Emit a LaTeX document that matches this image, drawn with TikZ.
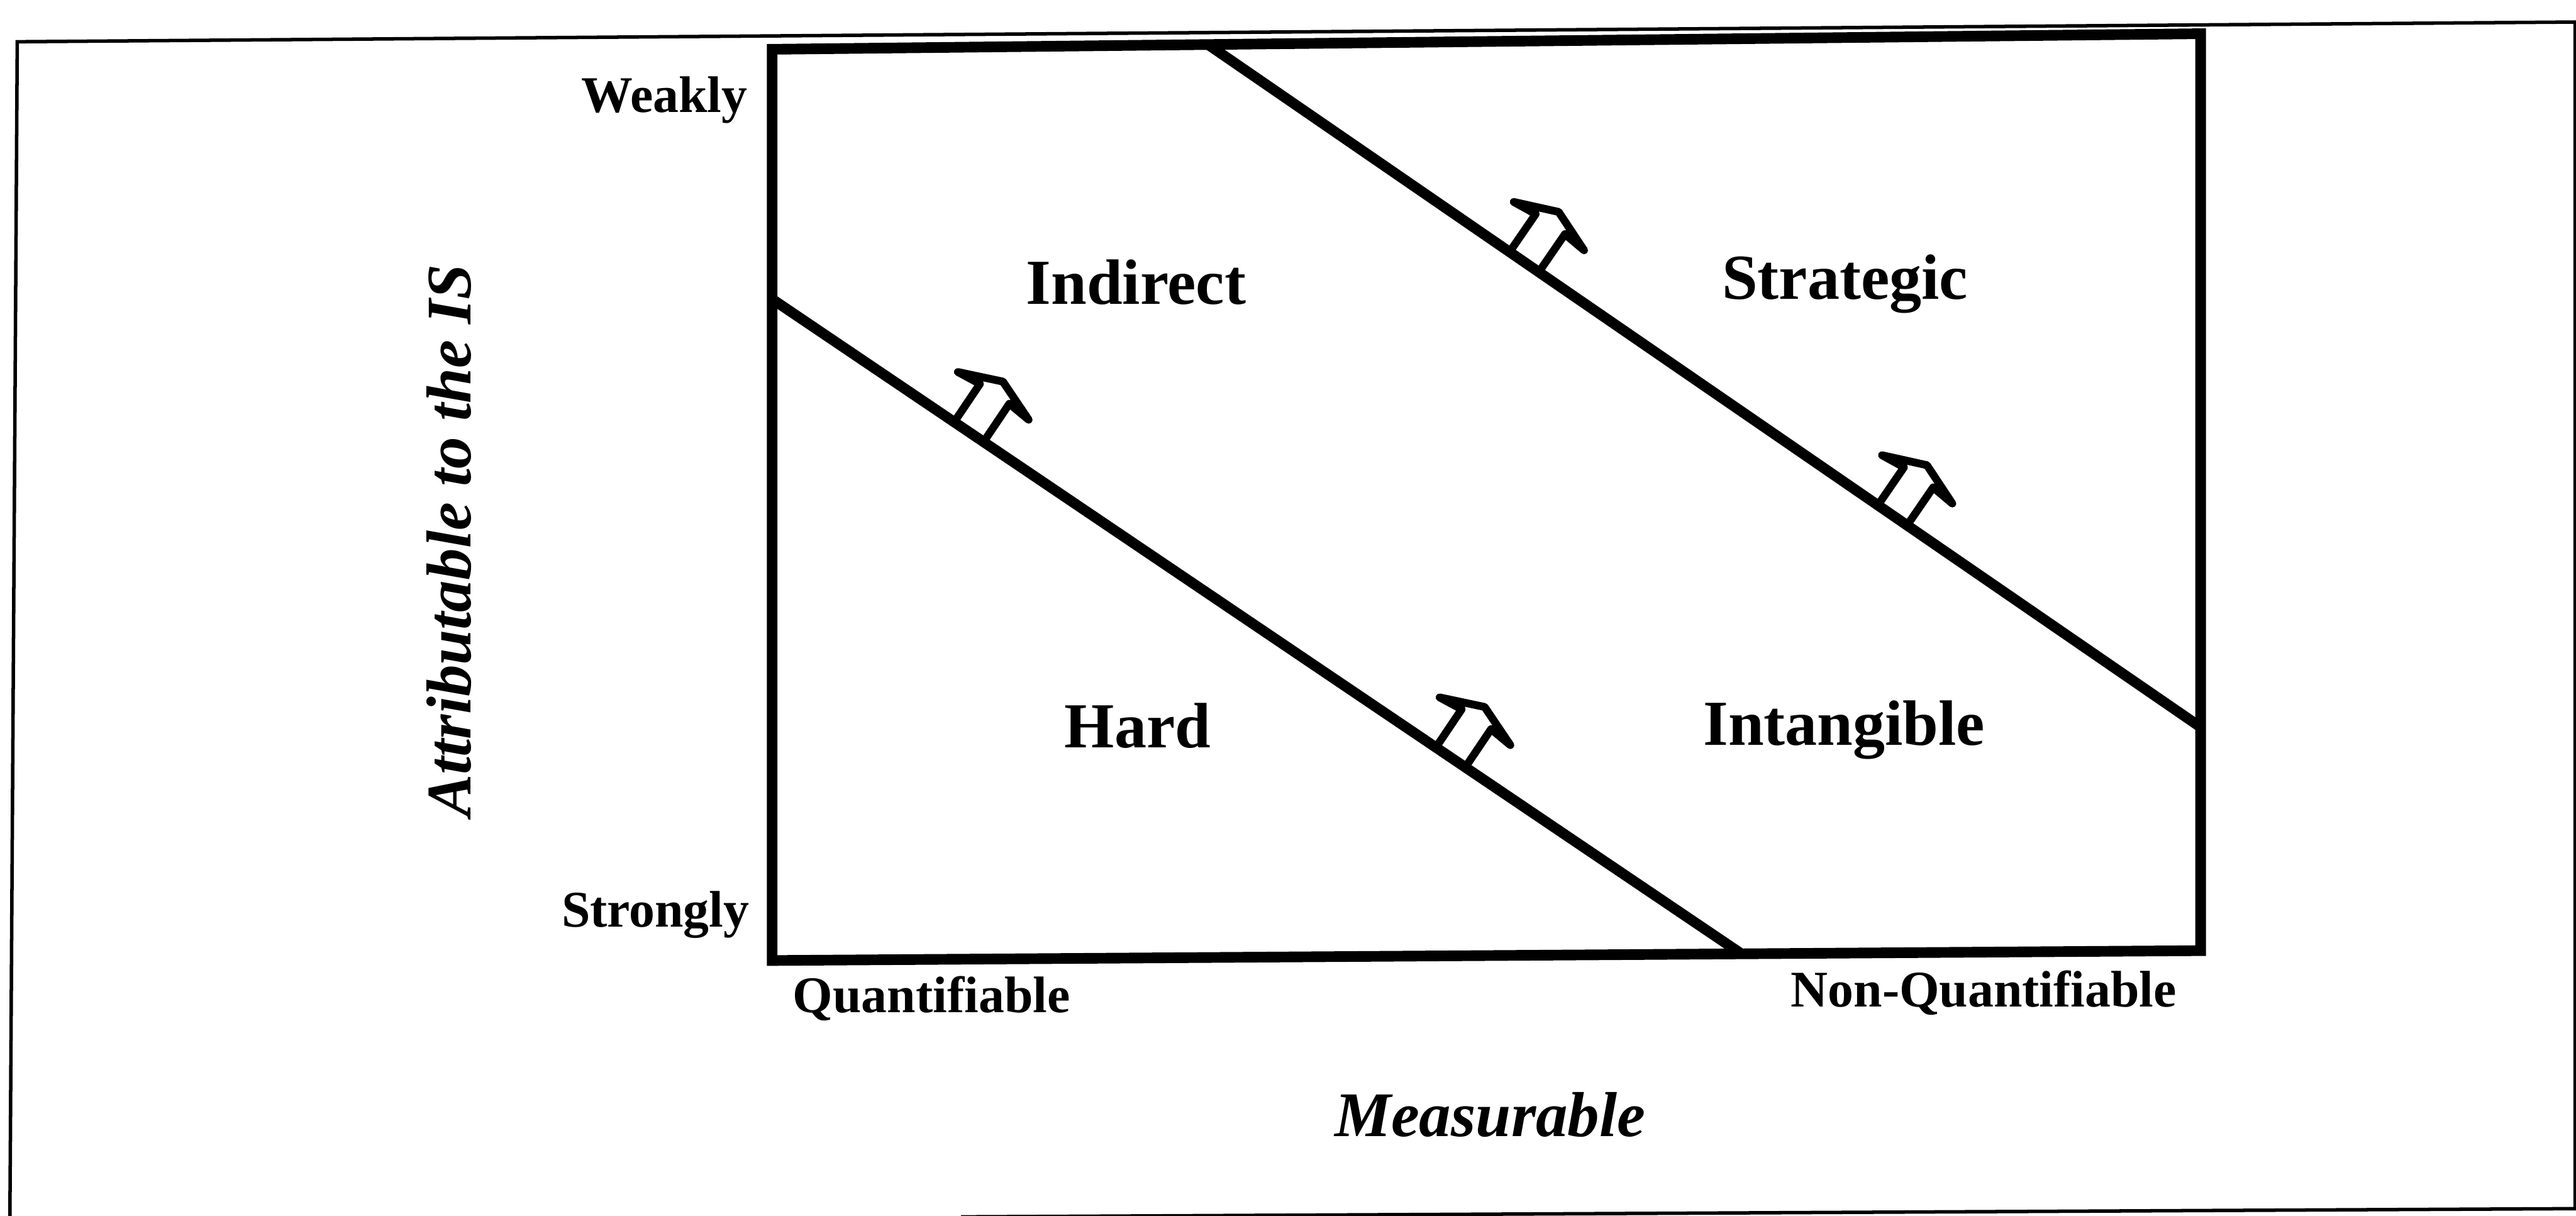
\documentclass[tikz,border=0pt]{standalone}
\usepackage{fontspec}
\setmainfont{Liberation Serif}
\usetikzlibrary{calc}
\begin{document}
\begin{tikzpicture}[x=0.01cm, y=-0.01cm,
  boxline/.style={line width=1.84pt, line join=miter},
  divider/.style={line width=1.8pt},
  arrowline/.style={line width=1.35pt, line join=round},
  frameline/.style={line width=0.6pt},
  region/.style={font=\fontsize{11.1}{13}\selectfont\bfseries, inner sep=0pt, anchor=base},
  scalelabel/.style={font=\fontsize{8.9}{10}\selectfont\bfseries, inner sep=0pt, anchor=base},
  axislabel/.style={font=\fontsize{11}{13}\selectfont\bfseries\itshape, inner sep=0pt, anchor=base},
  hollowarrow/.pic={\draw[arrowline] (-10.8,0) -- (-10.8,-28) -- (-26,-26.5) -- (0,-37) -- (26,-26.5) -- (10.8,-28) -- (10.8,0);}
]
\useasboundingbox (0,0) rectangle (1568,739.6);

% outer frame (scanned border)
\coordinate (fBL) at (585,740.5);
\coordinate (fBR) at (1567.5,735.5);
\coordinate (fTR) at (1567.5,13.4);
\coordinate (fTL) at (10.5,25.4);
\coordinate (fLL) at (6,745);
\draw[frameline] (fBL) -- (fBR) -- (fTR) -- (fTL) -- (fLL);

% inner box
\coordinate (TL) at (470,30);
\coordinate (TR) at (1339.5,20.5);
\coordinate (BR) at (1339.5,578.5);
\coordinate (BL) at (470,584.5);
\draw[boxline] (TL) -- (TR) -- (BR) -- (BL) -- cycle;

% dividing lines
\coordinate (L1s) at (470,182);
\coordinate (L1e) at (1060,580.4);
\coordinate (L2s) at (735.3,27.1);
\coordinate (L2e) at (1339.5,442.5);
\draw[divider] (L1s) -- (L1e);
\draw[divider] (L2s) -- (L2e);

% hollow arrows
\coordinate (a1) at ($(L1s)!0.203!(L1e)$);
\coordinate (a2) at ($(L1s)!0.70!(L1e)$);
\coordinate (a3) at ($(L2s)!0.3186!(L2e)$);
\coordinate (a4) at ($(L2s)!0.6896!(L2e)$);
\pic[rotate=-34.0] at (a1) {hollowarrow};
\pic[rotate=-34.0] at (a2) {hollowarrow};
\pic[rotate=-34.5] at (a3) {hollowarrow};
\pic[rotate=-34.5] at (a4) {hollowarrow};

% region labels
\node[region] (indirect) at (691.5,185) {Indirect};
\node[region] (strategic) at (1123,182) {Strategic};
\node[region] (hard) at (692.5,455) {Hard};
\node[region] (intangible) at (1122.5,453.5) {Intangible};

% scale labels
\node[scalelabel] (weakly) at (404.5,68.5) {Weakly};
\node[scalelabel] (strongly) at (399,564) {Strongly};
\node[scalelabel] (quant) at (567,616) {Quantifiable};
\node[scalelabel] (nonquant) at (1207.5,612.5) {Non-Quantifiable};

% axis labels
\node[axislabel] (meas) at (907,691.5) {Measurable};
\node[axislabel, rotate=90] (attr) at (286.5,329) {Attributable to the IS};
\end{tikzpicture}
\end{document}
